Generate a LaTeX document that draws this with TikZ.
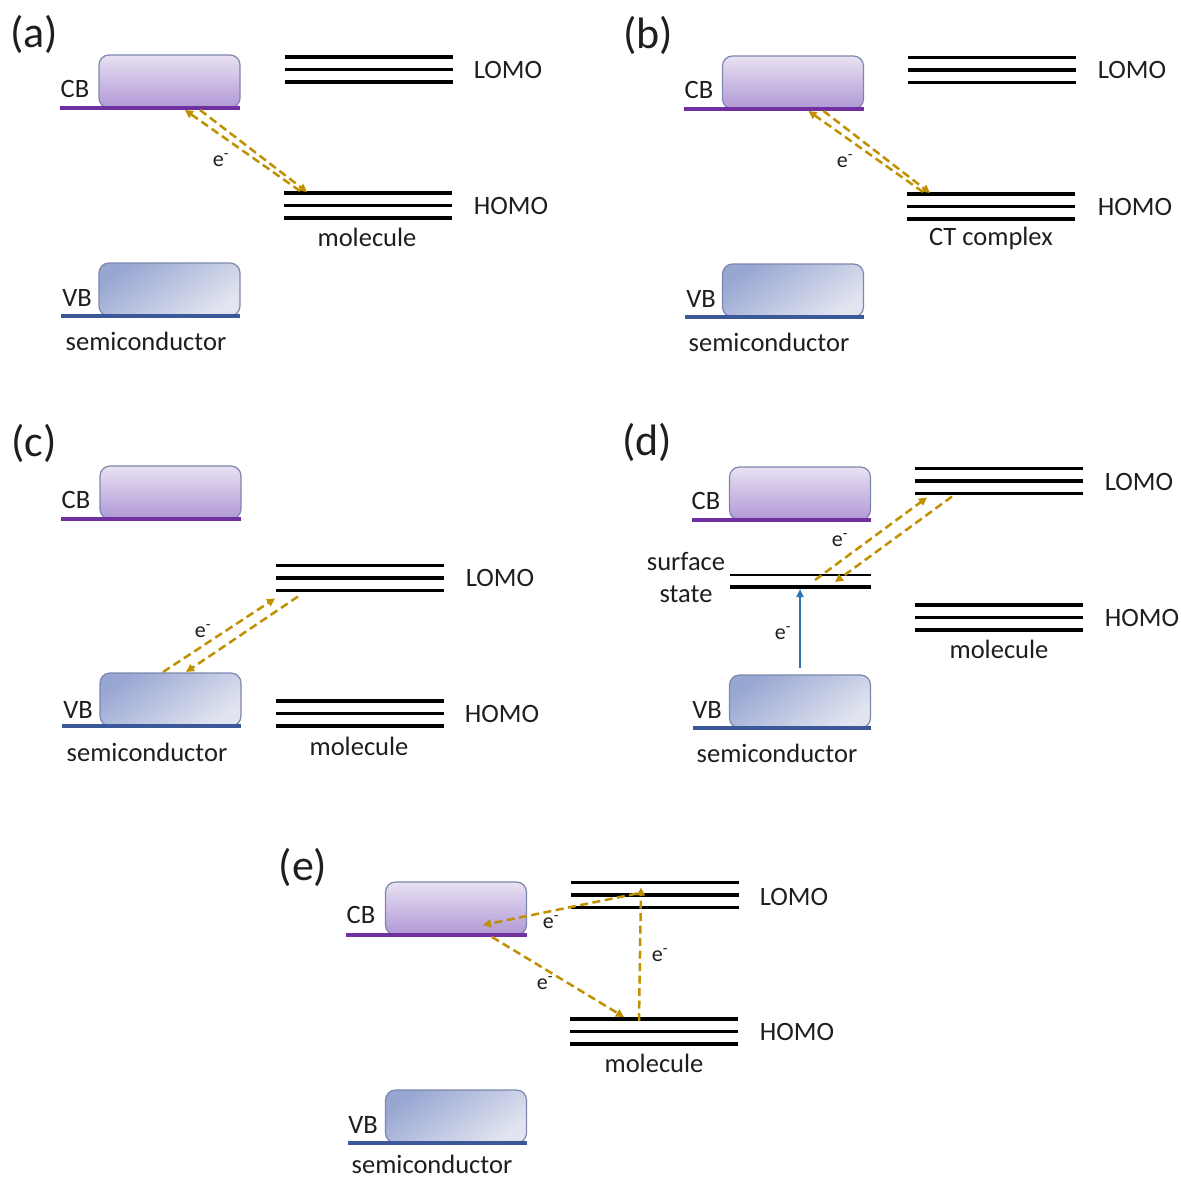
\documentclass[tikz,border=0pt]{standalone}
\usepackage{fontspec}
\setmainfont{Carlito}
\usetikzlibrary{calc,arrows.meta}

\definecolor{cbpurple}{RGB}{112,48,160}
\definecolor{vbblue}{RGB}{59,89,152}
\definecolor{boxedge}{RGB}{125,135,175}
\definecolor{cbtop}{RGB}{232,225,242}
\definecolor{cbbot}{RGB}{176,152,214}
\definecolor{vbdark}{RGB}{152,166,210}
\definecolor{vblight}{RGB}{226,229,240}
\definecolor{gold}{RGB}{191,144,0}
\definecolor{excite}{RGB}{46,117,182}
\definecolor{ink}{RGB}{30,30,30}

\tikzset{
  txt/.style={font=\fontsize{26.5}{31}\selectfont, text=ink, inner sep=0pt},
  panel/.style={font=\fontsize{44}{48}\selectfont, text=ink, inner sep=0pt},
  elec/.style={font=\fontsize{22}{26}\selectfont, text=ink, inner sep=0pt},
  cbbox/.style={draw=boxedge, line width=1.2pt, rounded corners=10pt,
    top color=cbtop, bottom color=cbbot,
    minimum width=141pt, minimum height=53pt, inner sep=0pt, outer sep=0pt},
  vbbox/.style={draw=boxedge, line width=1.2pt, rounded corners=10pt,
    top color=vbdark, bottom color=vblight, shading angle=35,
    minimum width=141pt, minimum height=53pt, inner sep=0pt, outer sep=0pt},
  cbline/.style={draw=cbpurple, line width=3.2pt},
  vbline/.style={draw=vbblue, line width=3.2pt},
  level/.style={draw=black, line width=3.2pt},
  thinlevel/.style={draw=black, line width=2.2pt},
  transfer/.style={draw=gold, line width=2.5pt, dash pattern=on 8pt off 4.5pt,
    -{Triangle[length=8pt,width=8pt]}},
  pump/.style={draw=excite, line width=2.2pt, -{Triangle[length=8pt,width=7pt]}},
  stack/.pic={
    \draw[level] (-84,-12.5) -- (84,-12.5);
    \draw[level] (-84,0) -- (84,0);
    \draw[level] (-84,12.5) -- (84,12.5);
    \coordinate (-top) at (0,-12.5);
    \coordinate (-bot) at (0,12.5);
  }
}

\begin{document}
\begin{tikzpicture}[x=1pt, y=-1pt]
\useasboundingbox (0,0) rectangle (1181,1178);

% ---------------- (a) ----------------
\node[panel] (aTag) at (34,34) {(a)};
\node[cbbox] (aCB) at (169.5,81.5) {};
\draw[cbline] ($(aCB.south west)+(-39,0)$) -- (aCB.south east);
\node[txt] (aCBt) at (75,89) {CB};
\node[vbbox] (aVB) at (169.5,289.5) {};
\draw[vbline] ($(aVB.south west)+(-38,0)$) -- (aVB.south east);
\node[txt] (aVBt) at (77,298) {VB};
\node[txt] (aSC) at (146,341) {semiconductor};
\pic (aL) at (369,69.5) {stack};
\pic (aH) at (368,205.5) {stack};
\node[txt] (aLt) at (508,70) {LOMO};
\node[txt] (aHt) at (511,206) {HOMO};
\node[txt] (aMol) at (367,237) {molecule};
\draw[transfer] ($(aCB.south)+(30.5,2)$) -- ($(aH-top)+(-61,-1)$);
\draw[transfer] ($(aH-top)+(-68,-2)$) -- ($(aCB.south)+(15.5,2)$);
\node[elec] (aE) at (221,160) {e\textsuperscript{-}};

% ---------------- (b) ----------------
\node[panel] (bTag) at (648,35) {(b)};
\node[cbbox] (bCB) at (793,82.5) {};
\draw[cbline] ($(bCB.south west)+(-39,0)$) -- (bCB.south east);
\node[txt] (bCBt) at (699,90) {CB};
\node[vbbox] (bVB) at (793,290.5) {};
\draw[vbline] ($(bVB.south west)+(-38,0)$) -- (bVB.south east);
\node[txt] (bVBt) at (701,299) {VB};
\node[txt] (bSC) at (769,342) {semiconductor};
\pic (bL) at (992,70) {stack};
\pic (bH) at (991,206.5) {stack};
\node[txt] (bLt) at (1132,70) {LOMO};
\node[txt] (bHt) at (1135,207) {HOMO};
\node[txt] (bMol) at (991,238) {CT complex};
\draw[transfer] ($(bCB.south)+(30.5,2)$) -- ($(bH-top)+(-61,-1)$);
\draw[transfer] ($(bH-top)+(-68,-2)$) -- ($(bCB.south)+(15.5,2)$);
\node[elec] (bE) at (845,161) {e\textsuperscript{-}};

% ---------------- (c) ----------------
\node[panel] (cTag) at (34,443) {(c)};
\node[cbbox] (cCB) at (170.5,492.5) {};
\draw[cbline] ($(cCB.south west)+(-39,0)$) -- (cCB.south east);
\node[txt] (cCBt) at (76,500) {CB};
\node[vbbox] (cVB) at (170.5,699.5) {};
\draw[vbline] ($(cVB.south west)+(-38,0)$) -- (cVB.south east);
\node[txt] (cVBt) at (78,710) {VB};
\node[txt] (cSC) at (147,752) {semiconductor};
\pic (cL) at (360,578) {stack};
\pic (cH) at (360,713.5) {stack};
\node[txt] (cLt) at (500,578) {LOMO};
\node[txt] (cHt) at (502,714) {HOMO};
\node[txt] (cMol) at (359,746) {molecule};
\draw[transfer] ($(cVB.north)+(-7.5,-1)$) -- ($(cL-bot)+(-85,8)$);
\draw[transfer] ($(cL-bot)+(-62,6)$) -- ($(cVB.north)+(15.5,-1)$);
\node[elec] (cE) at (203,631) {e\textsuperscript{-}};

% ---------------- (d) ----------------
\node[panel] (dTag) at (647,442) {(d)};
\node[cbbox] (dCB) at (800,493.5) {};
\draw[cbline] ($(dCB.south west)+(-38,0)$) -- (dCB.south east);
\node[txt] (dCBt) at (706,501) {CB};
\coordinate (dSSa) at (730,575);
\coordinate (dSSb) at (730,587);
\draw[thinlevel] (dSSa) -- ++(141,0);
\draw[level] (dSSb) -- ++(141,0);
\node[txt] (dSS1) at (686,562) {surface};
\node[txt] (dSS2) at (686,594) {state};
\node[vbbox] (dVB) at (800,701.5) {};
\draw[vbline] ($(dVB.south west)+(-37,0)$) -- (dVB.south east);
\node[txt] (dVBt) at (707,710) {VB};
\node[txt] (dSC) at (777,753) {semiconductor};
\pic (dL) at (999,481) {stack};
\pic (dH) at (999,617.5) {stack};
\node[txt] (dLt) at (1139,482) {LOMO};
\node[txt] (dHt) at (1142,618) {HOMO};
\node[txt] (dMol) at (999,649) {molecule};
\draw[pump] ($(dVB.north)+(0,-7)$) -- ($(dSSb)+(70,2)$);
\node[elec] (dE1) at (783,633) {e\textsuperscript{-}};
\draw[transfer] ($(dSSa)+(85,5)$) -- ($(dL-bot)+(-72,4)$);
\draw[transfer] ($(dL-bot)+(-47,3)$) -- ($(dSSa)+(105,7)$);
\node[elec] (dE2) at (840,540) {e\textsuperscript{-}};

% ---------------- (e) ----------------
\node[panel] (eTag) at (303,867) {(e)};
\node[cbbox] (eCB) at (456,908.5) {};
\draw[cbline] ($(eCB.south west)+(-40,0)$) -- (eCB.south east);
\node[txt] (eCBt) at (361,915) {CB};
\node[vbbox] (eVB) at (456,1116.5) {};
\draw[vbline] ($(eVB.south west)+(-38,0)$) -- (eVB.south east);
\node[txt] (eVBt) at (363,1125) {VB};
\node[txt] (eSC) at (432,1164) {semiconductor};
\pic (eL) at (655,895) {stack};
\pic (eH) at (654,1031.5) {stack};
\node[txt] (eLt) at (794,897) {LOMO};
\node[txt] (eHt) at (797,1032) {HOMO};
\node[txt] (eMol) at (654,1063) {molecule};
\draw[transfer] ($(eL-top)+(-18,11)$) -- ($(eCB.center)+(27,16.5)$);
\node[elec] (eE1) at (551,922) {e\textsuperscript{-}};
\draw[transfer] ($(eCB.south)+(36,2)$) -- ($(eH-top)+(-30,-2)$);
\node[elec] (eE2) at (545,983) {e\textsuperscript{-}};
\draw[transfer] ($(eH-top)+(-15,2)$) -- ($(eL-top)+(-14,5)$);
\node[elec] (eE3) at (660,955) {e\textsuperscript{-}};
\end{tikzpicture}
\end{document}
